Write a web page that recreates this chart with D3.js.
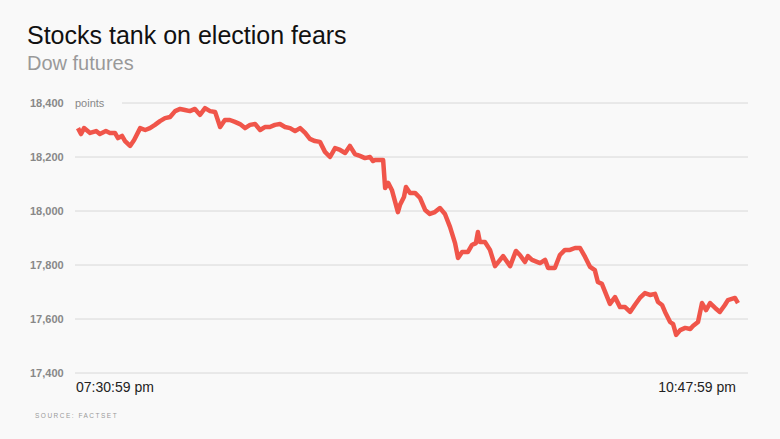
<!DOCTYPE html>
<html><head><meta charset="utf-8">
<script src="https://cdn.jsdelivr.net/npm/d3@7"></script>
<style>body{margin:0;background:#f9f9f9;font-family:"Helvetica Neue",Arial,"Liberation Sans",sans-serif}</style>
</head><body><div id="chart"></div>
<script>
var minutes = [0,0.9,1.8,3.6,5.4,6.5,8.3,9.5,11,11.9,13.1,14,15.5,16.7,18.5,20,21.4,22.9,24.4,25.9,27.4,28.9,30.4,31.8,33.3,34.8,36.3,37.8,39.3,40.8,42.3,43.7,45.2,46.7,48.2,49.7,51.2,52.7,54.2,55.6,57.1,58.6,60.1,61.6,63.1,64.6,66.1,67.6,69,70.5,72,73.5,75,76.5,78,79.5,80.9,82.4,83.9,85.4,86.9,87.8,88.4,90.8,91.4,92.3,93.4,95.2,95.8,97,97.6,98.8,100.3,101.8,103.3,104.7,106.2,107.7,109.2,110.7,112.2,113.1,114.3,116,117.2,118.4,119,119.6,121.1,122.6,124.1,125.6,126.5,128.6,130.3,131.5,133,133.9,135.1,137.5,139,139.9,141.9,143.4,144.9,146.4,147.9,149.4,150.9,152.4,153.8,154.7,155.9,157.1,158.3,159.8,161.3,162.8,164.3,165.7,167.2,168.7,170.2,171.7,172.6,173.8,174.7,176.2,177.1,178,179.2,180.7,182.2,183,184.5,185.7,186.9,188.1,189.6,191,192.5,193.4,195.5,196.4];
var points = [18307,18285,18307,18289,18296,18285,18296,18289,18289,18270,18278,18259,18241,18263,18307,18300,18307,18319,18333,18344,18348,18370,18378,18374,18370,18378,18356,18381,18370,18367,18311,18337,18337,18330,18322,18307,18319,18322,18300,18311,18311,18319,18322,18311,18307,18296,18307,18289,18267,18259,18256,18219,18200,18233,18226,18215,18241,18211,18204,18196,18200,18185,18189,18189,18085,18104,18078,17996,18022,18052,18089,18067,18067,18048,18004,17989,17996,18011,17989,17941,17881,17826,17848,17848,17874,17881,17922,17885,17885,17856,17796,17819,17833,17796,17852,17837,17811,17833,17819,17807,17819,17789,17789,17837,17856,17856,17863,17863,17830,17793,17781,17737,17730,17693,17656,17681,17644,17644,17626,17652,17678,17696,17689,17693,17663,17652,17626,17589,17581,17541,17559,17567,17563,17574,17589,17659,17633,17659,17641,17626,17652,17670,17678,17659];
var yTicks = [17400,17600,17800,18000,18200,18400];
var timeLabels = ["07:30:59 pm","10:47:59 pm"];

var W = 780, H = 439;
var svg = d3.select("#chart").append("svg").attr("width", W).attr("height", H);
svg.append("rect").attr("width", W).attr("height", H).attr("fill", "#f9f9f9");

var x = d3.scaleLinear().domain([0, 197]).range([78, 740]);
var y = d3.scaleLinear().domain([17400, 18400]).range([373, 103]);

// title
svg.append("text").attr("x", 27).attr("y", 44).attr("font-size", 25).attr("fill", "#111").text("Stocks tank on election fears");
svg.append("text").attr("x", 27).attr("y", 70).attr("font-size", 20).attr("fill", "#999").text("Dow futures");

// grid
svg.selectAll("line.grid").data(yTicks).enter().append("line")
    .attr("x1", function(d) { return d === 18400 ? 122 : 75; })
    .attr("x2", 748)
    .attr("y1", function(d) { return y(d); })
    .attr("y2", function(d) { return y(d); })
    .attr("stroke", "#d8d8d8").attr("stroke-width", 1);

svg.selectAll("text.tick").data(yTicks).enter().append("text")
    .attr("x", 30).attr("y", function(d) { return y(d); }).attr("dy", "0.35em")
    .attr("font-size", 11).attr("font-weight", "bold").attr("fill", "#888")
    .text(d3.format(","));
svg.append("text").attr("x", 75).attr("y", y(18400)).attr("dy", "0.35em")
    .attr("font-size", 11).attr("fill", "#888").text("points");

// line
svg.append("path").datum(d3.zip(minutes, points))
    .attr("d", d3.line().x(function(d) { return x(d[0]); }).y(function(d) { return y(d[1]); }))
    .attr("fill", "none").attr("stroke", "#f0554a").attr("stroke-width", 4.5)
    .attr("stroke-linejoin", "round");

// x labels
svg.append("text").attr("x", 76).attr("y", 392).attr("font-size", 14).attr("fill", "#222").text(timeLabels[0]);
svg.append("text").attr("x", 736).attr("y", 392).attr("text-anchor", "end").attr("font-size", 14).attr("fill", "#222").text(timeLabels[1]);

svg.append("text").attr("x", 35).attr("y", 418).attr("font-size", 6.5).attr("letter-spacing", 1.5).attr("fill", "#999").text("SOURCE: FACTSET");
</script></body></html>
